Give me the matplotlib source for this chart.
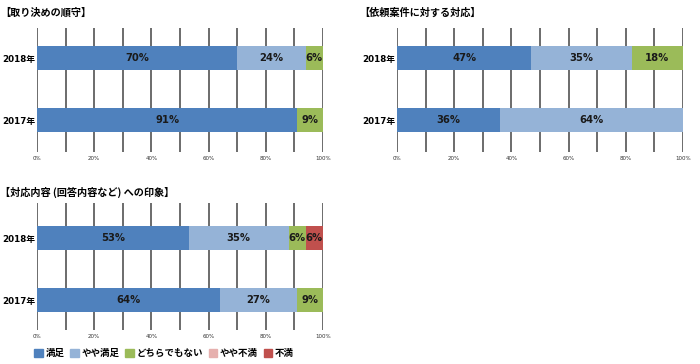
import matplotlib.pyplot as plt
from matplotlib.patches import Patch

plt.rcParams['font.family'] = ['DejaVu Sans', 'Noto Sans CJK JP']

# Datos
years = ["2018年", "2017年"]
categories = ["満足", "やや満足", "どちらでもない", "やや不満", "不満"]
colors = ["#4F81BD", "#95B3D7", "#9BBB59", "#E6B0AE", "#C0504D"]

titles = ["【取り決めの順守】", "【依頼案件に対する対応】", "【対応内容 (回答内容など) への印象】"]

# valores por categoría: [2018, 2017]
torikime = {
    "満足": [70, 91],
    "やや満足": [24, 0],
    "どちらでもない": [6, 9],
    "やや不満": [0, 0],
    "不満": [0, 0],
}
irai = {
    "満足": [47, 36],
    "やや満足": [35, 64],
    "どちらでもない": [18, 0],
    "やや不満": [0, 0],
    "不満": [0, 0],
}
inshou = {
    "満足": [53, 64],
    "やや満足": [35, 27],
    "どちらでもない": [6, 9],
    "やや不満": [0, 0],
    "不満": [6, 0],
}
xticks = [0, 20, 40, 60, 80, 100]
xticklabels = ["0%", "20%", "40%", "60%", "80%", "100%"]

W, H = 700, 364
fig = plt.figure(figsize=(7, 3.64), dpi=100)
jp = ['Noto Sans CJK JP', 'DejaVu Sans']


def draw(left, right, top, bottom, ylim, data, title, tx, ty):
    ax = fig.add_axes([left / W, 1 - bottom / H, (right - left) / W, (bottom - top) / H])
    ypos = [1, 0]
    base = [0, 0]
    for cat, col in zip(categories, colors):
        vals = data[cat]
        ax.barh(ypos, vals, left=base, height=0.39, color=col, zorder=3)
        for y, v, b in zip(ypos, vals, base):
            if v > 0:
                ax.text(b + v / 2, y, f"{v}%", ha="center", va="center",
                        fontsize=7.2, fontweight="bold", color="#1a1a1a", zorder=4)
        base = [b + v for b, v in zip(base, vals)]
    ax.set_xlim(0, 100)
    ax.set_ylim(*ylim)
    for gx in range(0, 101, 10):
        ax.axvline(gx, color="#444444", lw=1.1, zorder=1)
    ax.set_xticks(xticks)
    ax.set_xticklabels(xticklabels, fontsize=4, color="#333333")
    ax.set_yticks(ypos)
    ax.set_yticklabels(years, fontsize=6.3, fontweight="bold")
    ax.tick_params(length=0, pad=3)
    ax.tick_params(axis="y", pad=1.5)
    for s in ax.spines.values():
        s.set_visible(False)
    fig.text(tx / W, 1 - ty / H, title, fontsize=7.3, fontweight="bold",
             ha="left", va="center", family=jp)
    return ax


draw(37, 323, 28, 152, (-0.516, 1.484), torikime, titles[0], 0, 13)
draw(397, 683, 28, 152, (-0.516, 1.484), irai, titles[1], 359, 13)
draw(37, 323, 203, 330, (-0.484, 1.565), inshou, titles[2], 0, 192)

handles = [Patch(color=c, label=l) for c, l in zip(colors, categories)]
fig.legend(handles=handles, loc="center", bbox_to_anchor=(164 / W, 1 - 353 / H),
           ncol=5, frameon=False, prop={"weight": "bold", "size": 6.8, "family": jp},
           handlelength=0.9, handleheight=0.9, handletextpad=0.3, columnspacing=0.6)

plt.savefig("out.png", dpi=100)
